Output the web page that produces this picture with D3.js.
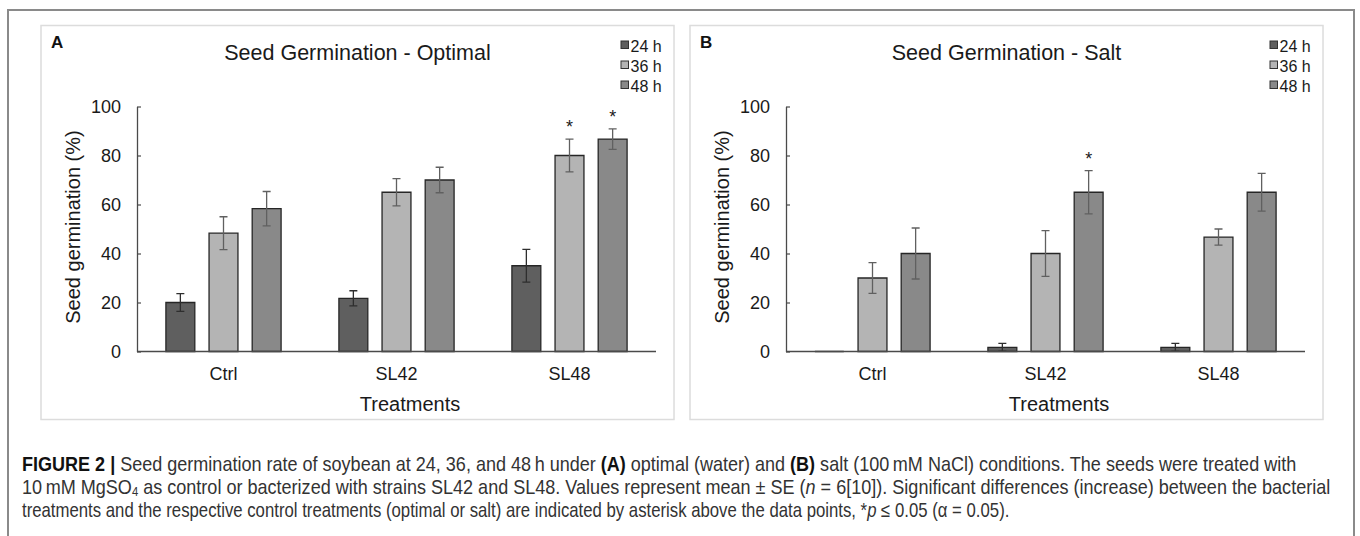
<!DOCTYPE html>
<html>
<head>
<meta charset="utf-8">
<script src="https://cdn.jsdelivr.net/npm/d3@7"></script>
<style>
  body { margin: 0; background: #fff; }
  svg { display: block; }
  text { font-family: "Liberation Sans", Arial, sans-serif; }
</style>
</head>
<body>
<svg id="fig" width="1360" height="536"></svg>
<script>
// ---- data -------------------------------------------------------------
const categories = ["Ctrl", "SL42", "SL48"];
const timepoints = ["24 h", "36 h", "48 h"];
const yTicks = [0, 20, 40, 60, 80, 100];

// mean germination (%) per treatment, ordered 24 h, 36 h, 48 h
const optimalMean = [[20, 48.3, 58.3], [21.7, 65, 70], [35, 80, 86.7]];
const optimalSE   = [[3.6, 6.7, 7.0], [3.1, 5.6, 5.2], [6.7, 6.7, 4.2]];
const optimalSig  = [[0, 0, 0], [0, 0, 0], [0, 1, 1]];

const saltMean = [[0, 30, 40], [1.7, 40, 65], [1.7, 46.7, 65]];
const saltSE   = [[0, 6.3, 10.4], [1.6, 9.3, 8.8], [1.6, 3.3, 7.7]];
const saltSig  = [[0, 0, 0], [0, 0, 1], [0, 0, 0]];

const panelTitles = ["Seed Germination - Optimal", "Seed Germination - Salt"];
const panelLetters = ["A", "B"];

// ---- styling ----------------------------------------------------------
const fills = ["#5f5f5f", "#b4b4b4", "#898989"];
const errColors = ["#2e2e2e", "#606060", "#606060"];

const svg = d3.select("#fig");

// outer figure frame, open at the bottom
svg.append("path")
  .attr("d", "M8,536V10H1354V536")
  .attr("fill", "none").attr("stroke", "#8a8a8a").attr("stroke-width", 2);

const panelW = 633, panelH = 394;
const panelOrigins = [[41, 25.5], [690, 25.5]];

function drawPanel(idx, means, ses, sig) {
  const [px, py] = panelOrigins[idx];
  const g = svg.append("g").attr("transform", `translate(${px},${py})`);

  g.append("rect").attr("x", 0).attr("y", 0).attr("width", panelW).attr("height", panelH)
    .attr("fill", "#fff").attr("stroke", "#dcdcdc").attr("stroke-width", 1.5);

  const x0 = d3.scaleBand().domain(categories).range([96, 615]).padding(0);
  const x1 = d3.scaleBand().domain(timepoints).range([0, x0.bandwidth()])
    .paddingInner(0.33).paddingOuter(0.67);
  const y = d3.scaleLinear().domain([0, 100]).range([326, 81]);

  // panel letter and title
  g.append("text").attr("x", 10).attr("y", 22.5)
    .attr("font-size", 17).attr("font-weight", "bold").attr("fill", "#111")
    .text(panelLetters[idx]);
  g.append("text").attr("x", panelW / 2).attr("y", 34.5)
    .attr("text-anchor", "middle").attr("font-size", 21.5).attr("fill", "#1a1a1a")
    .text(panelTitles[idx]);

  // legend
  const leg = g.append("g").attr("transform", "translate(580,0)");
  timepoints.forEach((t, i) => {
    leg.append("rect").attr("x", 0).attr("y", 15.5 + i * 20).attr("width", 7.5).attr("height", 7.5)
      .attr("fill", fills[i]).attr("stroke", "#333").attr("stroke-width", 1);
    leg.append("text").attr("x", 9.5).attr("y", 26 + i * 20)
      .attr("font-size", 16).attr("fill", "#1a1a1a").text(t);
  });

  // y axis
  const yAxis = d3.axisLeft(y).tickValues(yTicks).tickSizeInner(-4).tickSizeOuter(0).tickPadding(16);
  const ya = g.append("g").attr("transform", `translate(${x0.range()[0]},0)`).call(yAxis);
  ya.select(".domain").attr("stroke", "#4a4a4a").attr("stroke-width", 1.3);
  ya.selectAll(".tick line").attr("stroke", "#4a4a4a").attr("stroke-width", 1.2);
  ya.selectAll(".tick text").attr("font-size", 18).attr("fill", "#1a1a1a")
    .attr("font-family", "Liberation Sans, Arial, sans-serif");

  g.append("text")
    .attr("transform", `translate(39,${(y(0) + y(100)) / 2 - 2}) rotate(-90)`)
    .attr("text-anchor", "middle").attr("font-size", 20).attr("fill", "#1a1a1a")
    .text("Seed germination (%)");

  // bars
  categories.forEach((c, ci) => {
    timepoints.forEach((t, ti) => {
      const m = means[ci][ti], se = ses[ci][ti];
      const bx = x0(c) + x1(t), bw = x1.bandwidth();
      const p = d3.path();
      p.moveTo(bx, y(0)); p.lineTo(bx, y(m)); p.lineTo(bx + bw, y(m)); p.lineTo(bx + bw, y(0)); p.closePath();
      g.append("path").attr("d", p.toString())
        .attr("fill", fills[ti]).attr("stroke", "#262626").attr("stroke-width", 1.3);

      if (se > 0) {
        const cx = bx + bw / 2, top = y(m + se), bot = y(Math.max(0, m - se));
        const e = d3.path();
        e.moveTo(cx, top); e.lineTo(cx, bot);
        e.moveTo(cx - 4, top); e.lineTo(cx + 4, top);
        e.moveTo(cx - 4, bot); e.lineTo(cx + 4, bot);
        g.append("path").attr("d", e.toString()).attr("fill", "none")
          .attr("stroke", errColors[ti]).attr("stroke-width", 1.3);
      }
      if (sig[ci][ti]) {
        g.append("text").attr("x", bx + bw / 2).attr("y", y(m + se) - 6)
          .attr("text-anchor", "middle").attr("font-size", 18).attr("fill", "#1a1a1a").text("*");
      }
    });
  });

  // x axis baseline
  g.append("line").attr("x1", x0.range()[0]).attr("x2", x0.range()[1])
    .attr("y1", y(0)).attr("y2", y(0)).attr("stroke", "#4a4a4a").attr("stroke-width", 1.3);

  categories.forEach(c => {
    g.append("text").attr("x", x0(c) + x0.bandwidth() / 2).attr("y", 354.5)
      .attr("text-anchor", "middle").attr("font-size", 18).attr("fill", "#1a1a1a").text(c);
  });
  g.append("text").attr("x", 369).attr("y", 385.5)
    .attr("text-anchor", "middle").attr("font-size", 20).attr("fill", "#1a1a1a").text("Treatments");
}

drawPanel(0, optimalMean, optimalSE, optimalSig);
drawPanel(1, saltMean, saltSE, saltSig);

// ---- caption ----------------------------------------------------------
const captionLines = [
  [["FIGURE 2 | ", "b"], ["Seed germination rate of soybean at 24, 36, and 48\u2009h under ", ""], ["(A)", "b"],
   [" optimal (water) and ", ""], ["(B)", "b"], [" salt (100\u2009mM NaCl) conditions. The seeds were treated with", ""]],
  [["10\u2009mM MgSO", ""], ["4", "sub"], [" as control or bacterized with strains SL42 and SL48. Values represent mean \u00b1 SE (", "after-sub"],
   ["n", "i"], [" = 6[10]). Significant differences (increase) between the bacterial", ""]],
  [["treatments and the respective control treatments (optimal or salt) are indicated by asterisk above the data points, *", ""],
   ["p", "i"], [" \u2264 0.05 (\u03b1 = 0.05).", ""]]
];
const capBaselines = [471, 493.5, 516.5];
const capX = 22;
const capLineEnds = [1297, 1332, 1010];

captionLines.forEach((parts, i) => {
  const t = svg.append("text").attr("font-size", 20).attr("fill", "#333");
  parts.forEach(([s, style]) => {
    const ts = t.append("tspan").text(s);
    if (style === "b") ts.attr("font-weight", "bold").attr("fill", "#111");
    if (style === "i") ts.attr("font-style", "italic");
    if (style === "sub") ts.attr("font-size", 12.5).attr("dy", 2.5);
    if (style === "after-sub") ts.attr("dy", -2.5);
  });
  const sx = (capLineEnds[i] - capX) / t.node().getComputedTextLength();
  t.attr("transform", `translate(${capX},${capBaselines[i]}) scale(${sx},1)`);
});
</script>
</body>
</html>
